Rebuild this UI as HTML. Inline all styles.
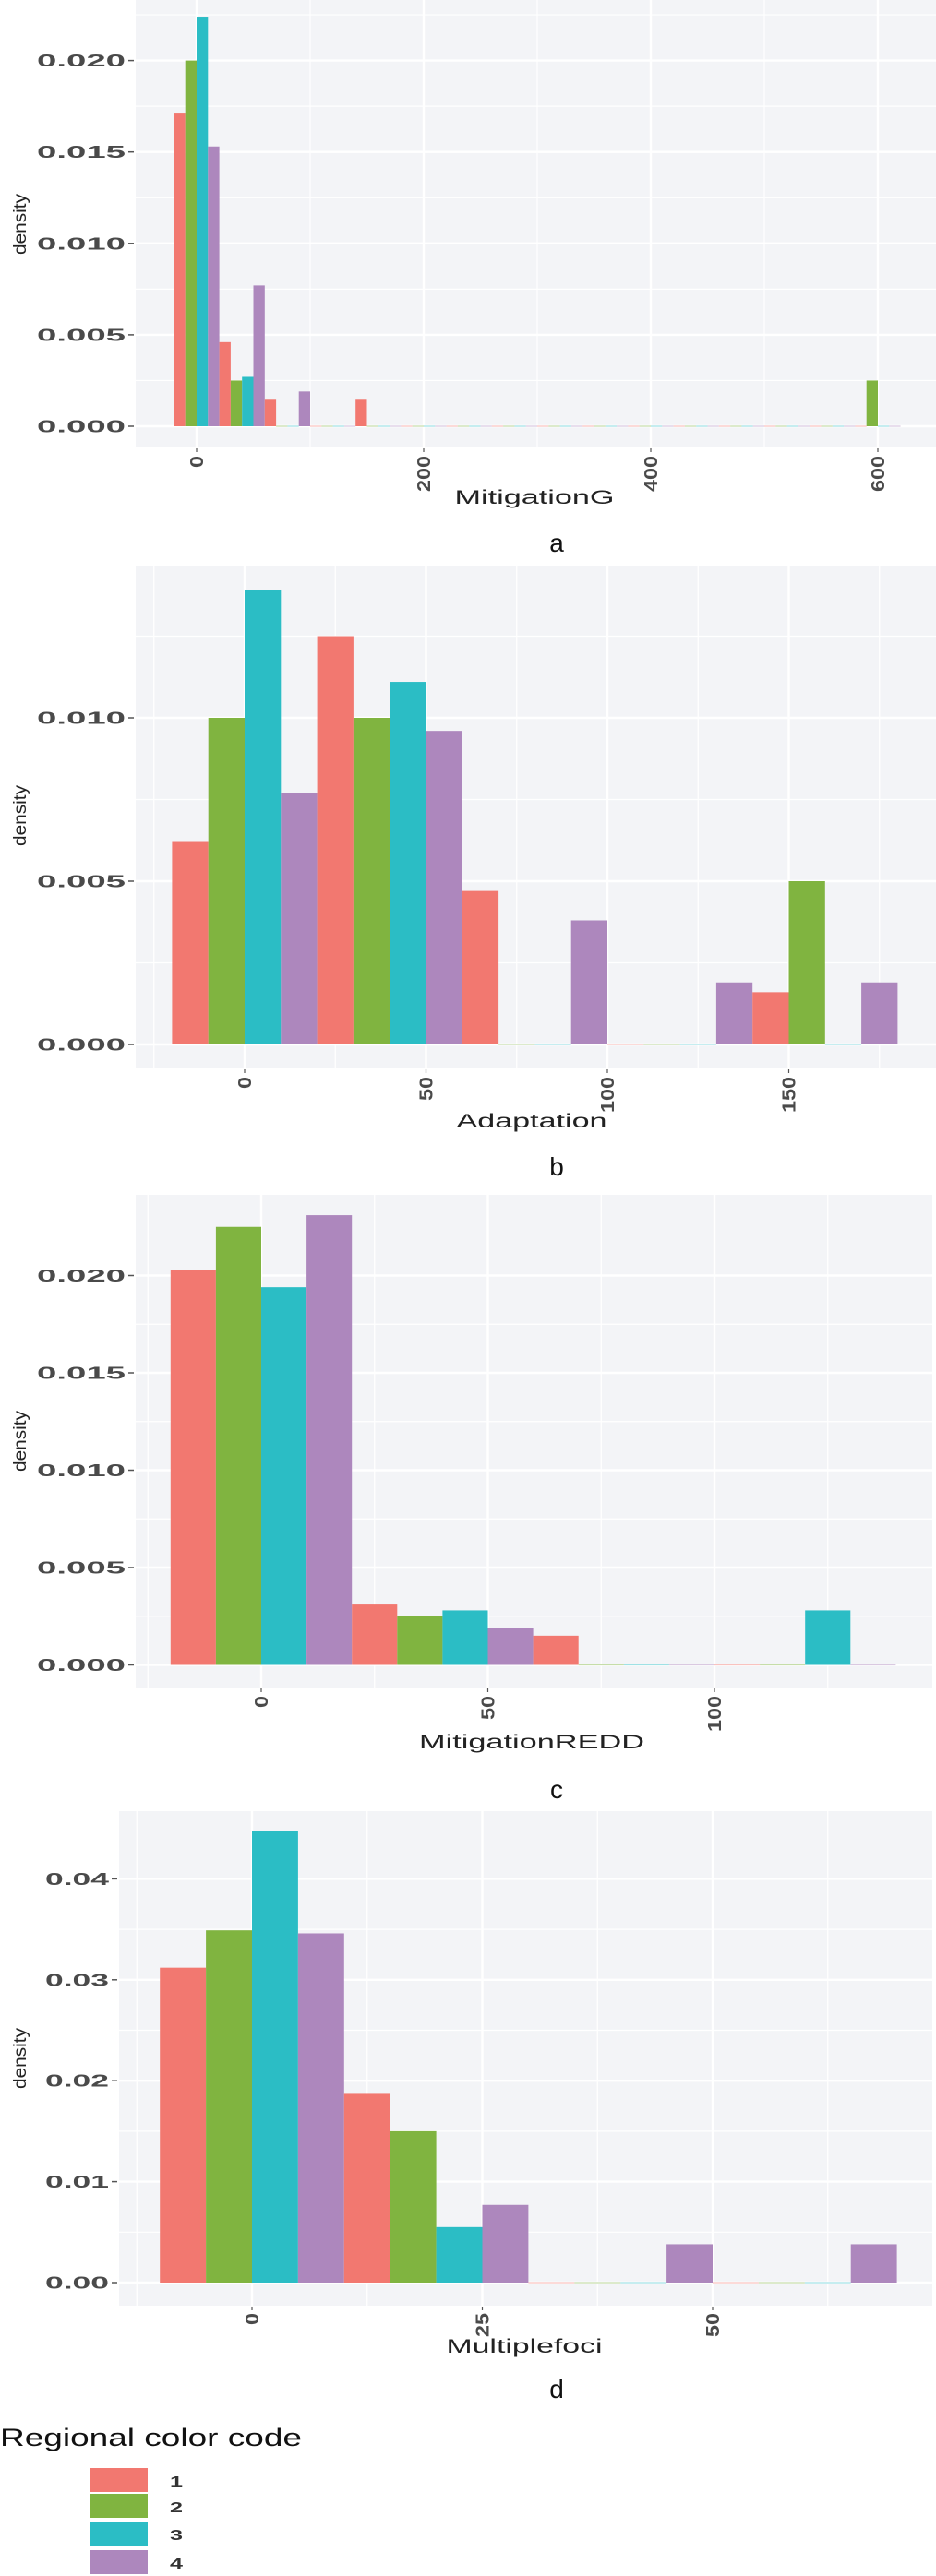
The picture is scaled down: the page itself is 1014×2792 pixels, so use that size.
<!DOCTYPE html>
<html><head><meta charset="utf-8"><style>
html,body{margin:0;padding:0;background:#fff;}
svg{display:block;}
</style></head>
<body>
<svg id="chart" width="1014" height="2792" viewBox="0 0 1014 2792" xmlns="http://www.w3.org/2000/svg" font-family="'Liberation Sans', sans-serif">
<rect x="0" y="0" width="1014" height="2792" fill="#ffffff"/>
<g id="panels"></g>
<g id="legend">
  <text x="0" y="2651" font-size="27" textLength="327" lengthAdjust="spacingAndGlyphs" fill="#111" font-family="'Liberation Sans', sans-serif">Regional color code</text>
</g>
</svg>
<script>
// ---- data ----
const series = ["1", "2", "3", "4"];
const colors = ["#f27870", "#80b440", "#2bbdc5", "#ad87bd"];

const aBins = [0, 40, 80, 120, 160, 200, 240, 280, 320, 360, 400, 440, 480, 520, 560, 600];
const aS1 = [0.0171, 0.0046, 0.0015, 0, 0.0015, 0, 0, 0, 0, 0, 0, 0, 0, 0, 0, 0];
const aS2 = [0.0200, 0.0025, 0, 0, 0, 0, 0, 0, 0, 0, 0, 0, 0, 0, 0, 0.0025];
const aS3 = [0.0224, 0.0027, 0, 0, 0, 0, 0, 0, 0, 0, 0, 0, 0, 0, 0, 0];
const aS4 = [0.0153, 0.0077, 0.0019, 0, 0, 0, 0, 0, 0, 0, 0, 0, 0, 0, 0, 0];
const aXTicks = [0, 200, 400, 600];
const aXTickLabels = ["0", "200", "400", "600"];
const aYTicks = [0, 0.005, 0.010, 0.015, 0.020];
const aYTickLabels = ["0.000", "0.005", "0.010", "0.015", "0.020"];

const bBins = [0, 40, 80, 120, 160];
const bS1 = [0.0062, 0.0125, 0.0047, 0, 0.0016];
const bS2 = [0.0100, 0.0100, 0, 0, 0.0050];
const bS3 = [0.0139, 0.0111, 0, 0, 0];
const bS4 = [0.0077, 0.0096, 0.0038, 0.0019, 0.0019];
const bXTicks = [0, 50, 100, 150];
const bXTickLabels = ["0", "50", "100", "150"];
const bYTicks = [0, 0.005, 0.010];
const bYTickLabels = ["0.000", "0.005", "0.010"];

const cBins = [0, 40, 80, 120];
const cS1 = [0.0203, 0.0031, 0.0015, 0];
const cS2 = [0.0225, 0.0025, 0, 0];
const cS3 = [0.0194, 0.0028, 0, 0.0028];
const cS4 = [0.0231, 0.0019, 0, 0];
const cXTicks = [0, 50, 100];
const cXTickLabels = ["0", "50", "100"];
const cYTicks = [0, 0.005, 0.010, 0.015, 0.020];
const cYTickLabels = ["0.000", "0.005", "0.010", "0.015", "0.020"];

const dBins = [0, 20, 40, 60];
const dS1 = [0.0312, 0.0187, 0, 0];
const dS2 = [0.0349, 0.0150, 0, 0];
const dS3 = [0.0447, 0.0055, 0, 0];
const dS4 = [0.0346, 0.0077, 0.0038, 0.0038];
const dXTicks = [0, 25, 50];
const dXTickLabels = ["0", "25", "50"];
const dYTicks = [0, 0.01, 0.02, 0.03, 0.04];
const dYTickLabels = ["0.00", "0.01", "0.02", "0.03", "0.04"];

// ---- layout (not data) ----
const NS = "http://www.w3.org/2000/svg";
const root = document.getElementById("panels");
function mk(tag, attrs, parent) {
  const e = document.createElementNS(NS, tag);
  for (const k in attrs) e.setAttribute(k, attrs[k]);
  (parent || root).appendChild(e);
  return e;
}

const panels = [
  {id:"a", title:"MitigationG", bins:aBins, s:[aS1,aS2,aS3,aS4], xt:aXTicks, xtl:aXTickLabels, yt:aYTicks, ytl:aYTickLabels,
   left:147, right:1014, top:0, bottom:485, x0:213, kx:1.23, y0:462, ky:19820, bw:40,
   xMinor:[100,300,500], yMinor:[0.0025,0.0075,0.0125,0.0175,0.0225], ylw:96,
   titleX:579, titleY:546, titleW:173, capY:598, densY:243, tickLblY:490},
  {id:"b", title:"Adaptation", bins:bBins, s:[bS1,bS2,bS3,bS4], xt:bXTicks, xtl:bXTickLabels, yt:bYTicks, ytl:bYTickLabels,
   left:147, right:1014, top:614, bottom:1158, x0:265, kx:3.93, y0:1132, ky:35400, bw:40,
   xMinor:[-25,25,75,125,175], yMinor:[0.0025,0.0075,0.0125], ylw:96,
   titleX:576, titleY:1222, titleW:163, capY:1274, densY:884, tickLblY:1163},
  {id:"c", title:"MitigationREDD", bins:cBins, s:[cS1,cS2,cS3,cS4], xt:cXTicks, xtl:cXTickLabels, yt:cYTicks, ytl:cYTickLabels,
   left:147, right:1010, top:1295, bottom:1829, x0:283, kx:4.91, y0:1804.5, ky:21100, bw:40,
   xMinor:[-25,25,75,125], yMinor:[0.0025,0.0075,0.0125,0.0175], ylw:96,
   titleX:576, titleY:1895, titleW:244, capY:1949, densY:1562, tickLblY:1834},
  {id:"d", title:"Multiplefoci", bins:dBins, s:[dS1,dS2,dS3,dS4], xt:dXTicks, xtl:dXTickLabels, yt:dYTicks, ytl:dYTickLabels,
   left:129, right:1010, top:1963, bottom:2499, x0:273, kx:9.98, y0:2474, ky:10940, bw:20,
   xMinor:[-12.5,12.5,37.5,62.5], yMinor:[0.005,0.015,0.025,0.035], ylw:69,
   titleX:568, titleY:2550, titleW:169, capY:2599, densY:2231, tickLblY:2503}
];

panels.forEach(p => {
  const g = mk("g", {});
  
  
  const X = v => p.x0 + v * p.kx;
  const Y = v => p.y0 - v * p.ky;
  const bg = mk("rect", {x:p.left, y:p.top, width:p.right-p.left, height:p.bottom-p.top, fill:"#f3f4f7"}, g);
  
  
  // grid
  const grid = mk("g", {}, g);
  
  
  p.yMinor.forEach(v => { const y = Y(v); if (y > p.top && y < p.bottom) mk("line", {x1:p.left, x2:p.right, y1:y, y2:y, stroke:"#fff", "stroke-width":1.2}, grid); });
  p.xMinor.forEach(v => { const x = X(v); if (x > p.left && x < p.right) mk("line", {x1:x, x2:x, y1:p.top, y2:p.bottom, stroke:"#fff", "stroke-width":1.2}, grid); });
  p.yt.forEach(v => { const y = Y(v); mk("line", {x1:p.left, x2:p.right, y1:y, y2:y, stroke:"#fff", "stroke-width":2.4}, grid); });
  p.xt.forEach(v => { const x = X(v); mk("line", {x1:x, x2:x, y1:p.top, y2:p.bottom, stroke:"#fff", "stroke-width":2.4}, grid); });
  // bars
  const barW = p.bw * p.kx / 4;
  p.bins.forEach((c, i) => {
    p.s.forEach((arr, si) => {
      const v = arr[i];
      const x = X(c) - p.bw * p.kx / 2 + si * barW;
      const r = mk("rect", {x:x, y:v > 0 ? Y(v) : Y(0) - 0.6, width:barW, height:v > 0 ? Y(0) - Y(v) : 1.2, fill:colors[si], opacity: v > 0 ? 1 : 0.45}, g);
      
      
    });
  });
  // y ticks
  p.yt.forEach((v, i) => {
    const y = Y(v);
    mk("line", {x1:p.left - 8, x2:p.left - 2, y1:y, y2:y, stroke:"#555", "stroke-width":1.5}, g);
    const t = mk("text", {x:p.left - 11, y:y + 6.5, "text-anchor":"end", "font-size":18, "font-weight":"bold", fill:"#4a4a4a", textLength:p.ylw, lengthAdjust:"spacingAndGlyphs"}, g);
    t.textContent = p.ytl[i];
    
    
  });
  // x ticks
  p.xt.forEach((v, i) => {
    const x = X(v);
    mk("line", {x1:x, x2:x, y1:p.bottom + 1, y2:p.bottom + 5, stroke:"#555", "stroke-width":1.2}, g);
    const t = mk("text", {x:0, y:0, "text-anchor":"end", "font-size":20, "font-weight":"bold", fill:"#4a4a4a",
      transform:"translate(" + (x + 7) + "," + (p.tickLblY) + ") rotate(-90)"}, g);
    t.setAttribute("textLength", p.xtl[i].length * 13);
    t.setAttribute("lengthAdjust", "spacingAndGlyphs");
    t.setAttribute("transform", "translate(" + (x + 7) + "," + (p.tickLblY + p.xtl[i].length * 13 + 4) + ") rotate(-90)");
    t.setAttribute("text-anchor", "start");
    t.textContent = p.xtl[i];
    
    
  });
  // axis title
  const xt = mk("text", {x:p.titleX, y:p.titleY, "text-anchor":"middle", "font-size":21, fill:"#222", textLength:p.titleW, lengthAdjust:"spacingAndGlyphs"}, g);
  xt.textContent = p.title;
  
  
  const yt = mk("text", {x:0, y:0, "text-anchor":"middle", "font-size":19, fill:"#222", transform:"translate(28," + p.densY + ") rotate(-90)", textLength:66, lengthAdjust:"spacingAndGlyphs"}, g);
  yt.textContent = "density";
  
  
  const cap = mk("text", {x:603, y:p.capY, "text-anchor":"middle", "font-size":28, fill:"#111"}, g);
  cap.textContent = p.id;
  
  
});

// legend
const leg = document.getElementById("legend");
const keyY = [2675, 2703, 2733, 2764];
series.forEach((s, i) => {
  const r = mk("rect", {x:98, y:keyY[i], width:62, height:26, fill:colors[i]}, leg);
  
  
  const t = mk("text", {x:184, y:keyY[i] + 20, "font-size":16, "font-weight":"bold", fill:"#333", textLength:14, lengthAdjust:"spacingAndGlyphs"}, leg);
  t.textContent = s;
  
  
});
</script>
</body></html>
